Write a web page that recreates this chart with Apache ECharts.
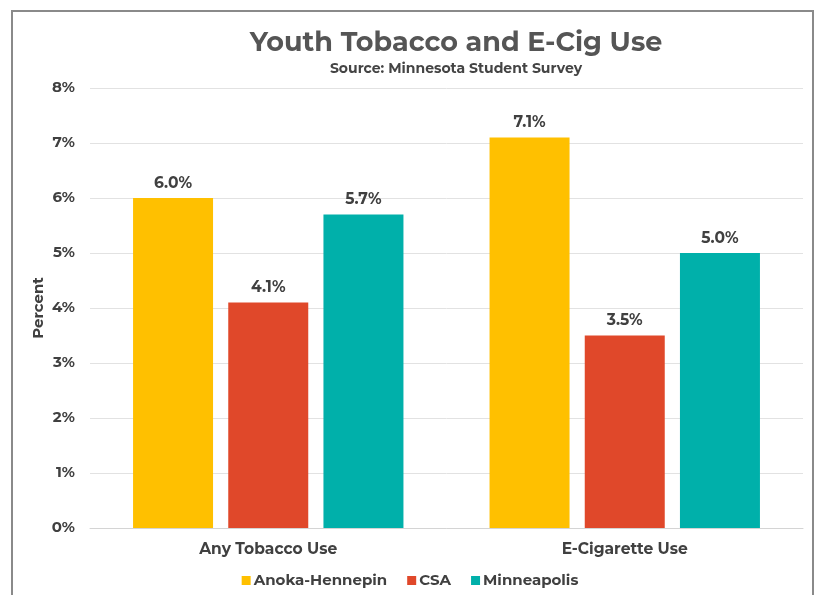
<!DOCTYPE html>
<html>
<head>
<meta charset="utf-8">
<script src="https://cdn.jsdelivr.net/npm/echarts@6/dist/echarts.min.js"></script>
<style>
  html, body { margin: 0; padding: 0; background: #fff; }
  #frame { position: absolute; left: 11px; top: 10px; width: 803px; height: 600px; border: 2px solid #8a8a8a; box-sizing: border-box; }
  #chart { position: absolute; left: 0; top: 0; width: 820px; height: 595px; }
</style>
</head>
<body>
<div id="frame"></div>
<div id="chart"></div>
<script>
const categories = ['Any Tobacco Use', 'E-Cigarette Use'];
const seriesNames = ['Anoka-Hennepin', 'CSA', 'Minneapolis'];
const anokaHennepin = [6.0, 7.1];
const csa = [4.1, 3.5];
const minneapolis = [5.7, 5.0];
const yTicks = [0, 1, 2, 3, 4, 5, 6, 7, 8];

const colors = ['#FFC000', '#E0482A', '#00B0AA'];
const font = 'Montserrat, "Open Sans", Lato, sans-serif';

const chart = echarts.init(document.getElementById('chart'), null, { renderer: 'canvas' });

function barSeries(name, data, color) {
  return {
    name: name,
    type: 'bar',
    data: data,
    barWidth: 80,
    barGap: '19%',
    itemStyle: { color: color },
    label: {
      show: true,
      position: 'top',
      distance: 7,
      formatter: p => p.value.toFixed(1) + '%',
      fontFamily: font,
      fontWeight: 'bold',
      fontSize: 15.5,
      color: '#404040'
    }
  };
}

chart.setOption({
  animation: false,
  textStyle: { fontFamily: font },
  title: {
    text: 'Youth Tobacco and E-Cig Use',
    subtext: 'Source: Minnesota Student Survey',
    left: 451,
    textAlign: 'center',
    top: 25,
    itemGap: 5,
    textStyle: { fontFamily: font, fontWeight: 'bold', fontSize: 27, color: '#555555' },
    subtextStyle: { fontFamily: font, fontWeight: 'bold', fontSize: 14, color: '#444444' }
  },
  legend: {
    data: seriesNames,
    bottom: 2,
    left: 'center',
    itemWidth: 9,
    itemHeight: 9,
    itemGap: 20,
    icon: 'rect',
    textStyle: { fontFamily: font, fontWeight: 'bold', fontSize: 15, color: '#404040', padding: [0, 0, 0, -2] }
  },
  grid: { left: 90, right: 17, top: 88, bottom: 67 },
  xAxis: {
    type: 'category',
    data: categories,
    axisLine: { lineStyle: { color: '#d4d4d4', width: 1 } },
    axisTick: { show: false },
    axisLabel: { fontFamily: font, fontWeight: 'bold', fontSize: 15.5, color: '#404040', margin: 13 }
  },
  yAxis: {
    type: 'value',
    min: yTicks[0],
    max: yTicks[yTicks.length - 1],
    interval: 1,
    name: 'Percent',
    nameLocation: 'middle',
    nameGap: 44,
    nameMoveOverlap: false,
    nameTextStyle: { fontFamily: font, fontWeight: 'bold', fontSize: 15, color: '#404040' },
    axisLine: { show: false },
    axisTick: { show: false },
    splitLine: { lineStyle: { color: '#e2e2e2', width: 1 } },
    axisLabel: {
      fontFamily: font, fontWeight: 'bold', fontSize: 15, color: '#404040', margin: 15,
      formatter: v => v + '%'
    }
  },
  series: [
    barSeries(seriesNames[0], anokaHennepin, colors[0]),
    barSeries(seriesNames[1], csa, colors[1]),
    barSeries(seriesNames[2], minneapolis, colors[2])
  ]
});
</script>
</body>
</html>
